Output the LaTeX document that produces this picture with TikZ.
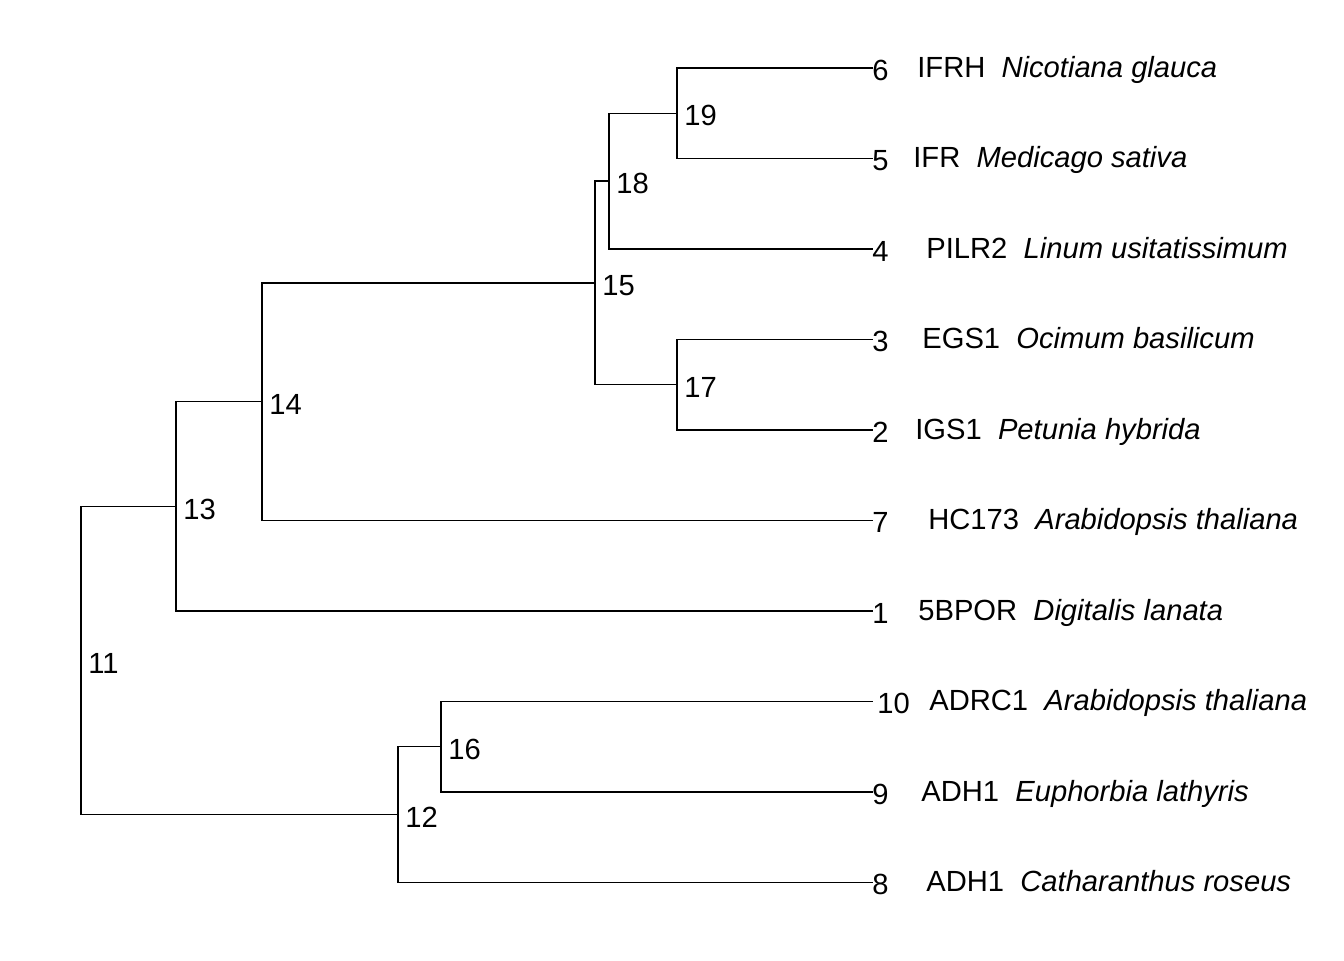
\documentclass[tikz,border=0pt]{standalone}
\usepackage{fontspec}
\setmainfont{Liberation Sans}
\usetikzlibrary{positioning}
\tikzset{branch/.style={line width=0.8pt,line cap=rect}}
\tikzset{tipnum/.style={anchor=base west,inner sep=0pt}}
\tikzset{taxon/.style={anchor=base west,inner sep=0pt}}
\tikzset{clade/.style={anchor=base west,inner sep=0pt}}

\begin{document}
\begin{tikzpicture}[x=0.02cm,y=-0.02cm,font=\fontsize{16.6}{19}\selectfont]
  \useasboundingbox (0,0) rectangle (1344,960);
  % tip ends
  \coordinate (tip6) at (872,68);
  \coordinate (tip5) at (872,158.5);
  \coordinate (tip4) at (872,249);
  \coordinate (tip3) at (872,339.5);
  \coordinate (tip2) at (872,430);
  \coordinate (tip7) at (872,520.5);
  \coordinate (tip1) at (872,611);
  \coordinate (tip10) at (872,701.5);
  \coordinate (tip9) at (872,792);
  \coordinate (tip8) at (872,882.5);
  % internal nodes
  \coordinate (n19) at (677,113.25);
  \coordinate (n18) at (609,181.1);
  \coordinate (n17) at (677,384.75);
  \coordinate (n15) at (595,282.9);
  \coordinate (n14) at (262,401.7);
  \coordinate (n13) at (176,506.4);
  \coordinate (n16) at (441,746.75);
  \coordinate (n12) at (398,814.6);
  \coordinate (n11) at (81,660.5);
  % branches
  \draw[branch] (tip6) -| (n19) |- (tip5);
  \draw[branch] (n19) -| (n18) |- (tip4);
  \draw[branch] (tip3) -| (n17) |- (tip2);
  \draw[branch] (n18) -| (n15) |- (n17);
  \draw[branch] (n15) -| (n14) |- (tip7);
  \draw[branch] (n14) -| (n13) |- (tip1);
  \draw[branch] (tip10) -| (n16) |- (tip9);
  \draw[branch] (n16) -| (n12) |- (tip8);
  \draw[branch] (n13) -| (n11) |- (n12);
  % internal labels
  \node[clade] (l19) at (684,125.5) {19};
  \node[clade] (l18) at (616,193.5) {18};
  \node[clade] (l17) at (684,397) {17};
  \node[clade] (l15) at (602,295) {15};
  \node[clade] (l14) at (269,414) {14};
  \node[clade] (l13) at (183,519) {13};
  \node[clade] (l16) at (448,759) {16};
  \node[clade] (l12) at (405,827) {12};
  \node[clade] (l11) at (88,673) {11};
  % tip labels
  \node[tipnum] (num6) at (872,80) {6};
  \node[tipnum] (num5) at (872,170.5) {5};
  \node[tipnum] (num4) at (872,261) {4};
  \node[tipnum] (num3) at (872,351.5) {3};
  \node[tipnum] (num2) at (872,442) {2};
  \node[tipnum] (num7) at (872,532.5) {7};
  \node[tipnum] (num1) at (872,623) {1};
  \node[tipnum] (num10) at (877,713.5) {10};
  \node[tipnum] (num9) at (872,804) {9};
  \node[tipnum] (num8) at (872,894.5) {8};
  \node[taxon] (sp6) at (917,77) {IFRH~~\textit{Nicotiana glauca}};
  \node[taxon] (sp5) at (913,167.5) {IFR~~\textit{Medicago sativa}};
  \node[taxon] (sp4) at (926,258) {PILR2~~\textit{Linum usitatissimum}};
  \node[taxon] (sp3) at (922,348.5) {EGS1~~\textit{Ocimum basilicum}};
  \node[taxon] (sp2) at (915,439) {IGS1~~\textit{Petunia hybrida}};
  \node[taxon] (sp7) at (928,529.5) {HC173~~\textit{Arabidopsis thaliana}};
  \node[taxon] (sp1) at (918,620) {5BPOR~~\textit{Digitalis lanata}};
  \node[taxon] (sp10) at (929,710.5) {ADRC1~~\textit{Arabidopsis thaliana}};
  \node[taxon] (sp9) at (921,801) {ADH1~~\textit{Euphorbia lathyris}};
  \node[taxon] (sp8) at (926,891.5) {ADH1~~\textit{Catharanthus roseus}};
\end{tikzpicture}
\end{document}
